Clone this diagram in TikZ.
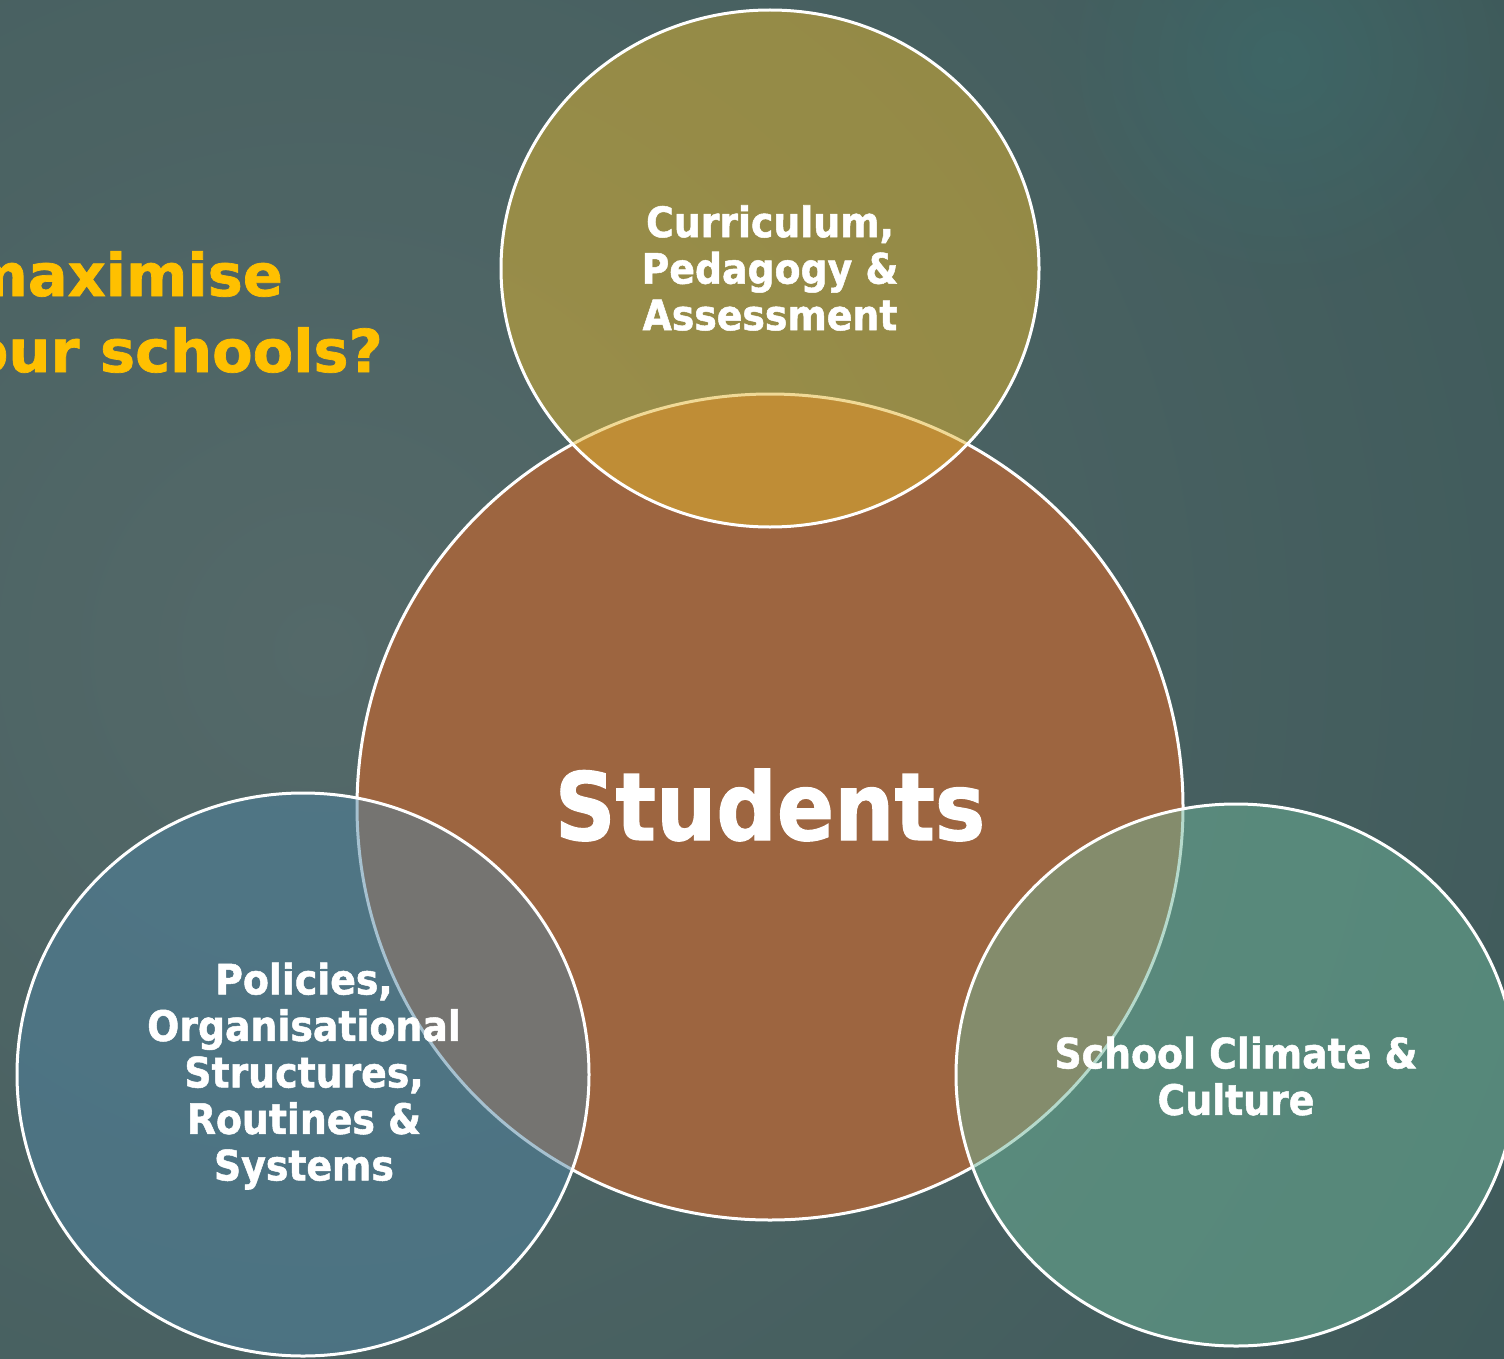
\documentclass[tikz,border=0pt]{standalone}
\usepackage{fontspec}
\setmainfont{DejaVu Sans}[FakeStretch=0.9, BoldFeatures={FakeBold=1.2}]
\newfontfamily\titlefont{DejaVu Sans}[BoldFeatures={FakeBold=1.2}]
\usetikzlibrary{fadings}
\tikzfading[name=glowfade, inner color=transparent!0, outer color=transparent!100]
\definecolor{bgbase}{HTML}{3F5A5B}
\definecolor{bginner}{HTML}{546969}
\definecolor{bgouter}{HTML}{2F4F50}
\definecolor{glow}{HTML}{3C6A6A}
\definecolor{centrefill}{HTML}{9D6540}
\definecolor{topfill}{HTML}{E2B52E}
\definecolor{leftfill}{HTML}{4F84A2}
\definecolor{rightfill}{HTML}{6CB498}
\definecolor{titlecol}{HTML}{FFC000}
\tikzset{
  venn/.style={draw=white, line width=3pt},
  overlay/.style={venn, fill opacity=0.5, draw opacity=1},
  lbl/.style={text=white, align=center, inner sep=0pt, font=\bfseries\fontsize{42}{46.5}\selectfont},
  ttl/.style={text=titlecol, inner sep=0pt, font=\titlefont\bfseries\fontsize{59}{76}\selectfont, anchor=base east}
}
\begin{document}
\begin{tikzpicture}[x=1pt,y=-1pt]
\useasboundingbox (0,0) rectangle (1504,1359);
\begin{scope}
\clip (0,0) rectangle (1504,1359);
\fill[bgbase] (0,0) rectangle (1504,1359);
\shade[inner color=bginner, outer color=bgouter] (320,650) circle (2400);
\fill[glow, path fading=glowfade, fill opacity=0.7] (1280,60) circle (230);

% circles
\path[venn, fill=centrefill] (770,807) circle (413);
\path[overlay, fill=topfill] (770,268.5) ellipse [x radius=269, y radius=258.5];
\path[overlay, fill=leftfill] (303,1074.5) ellipse [x radius=286, y radius=281.5];
\path[overlay, fill=rightfill] (1236,1075) ellipse [x radius=280, y radius=271];

% texts
\node[ttl] (title1) at (283,296) {maximise};
\node[ttl] (title2) at (383,372) {our schools?};
\node[text=white, inner sep=0pt, font=\bfseries\fontsize{94}{100}\selectfont, anchor=base] (students) at (770,840) {Students};
\node[lbl] (cpa) at (770,268) {Curriculum,\\Pedagogy \&\\Assessment};
\node[lbl] (pol) at (304,1076) {Policies,\\Organisational\\Structures,\\Routines \&\\Systems};
\node[lbl] (scc) at (1236,1076) {School Climate \&\\Culture};
\end{scope}
\end{tikzpicture}
\end{document}
